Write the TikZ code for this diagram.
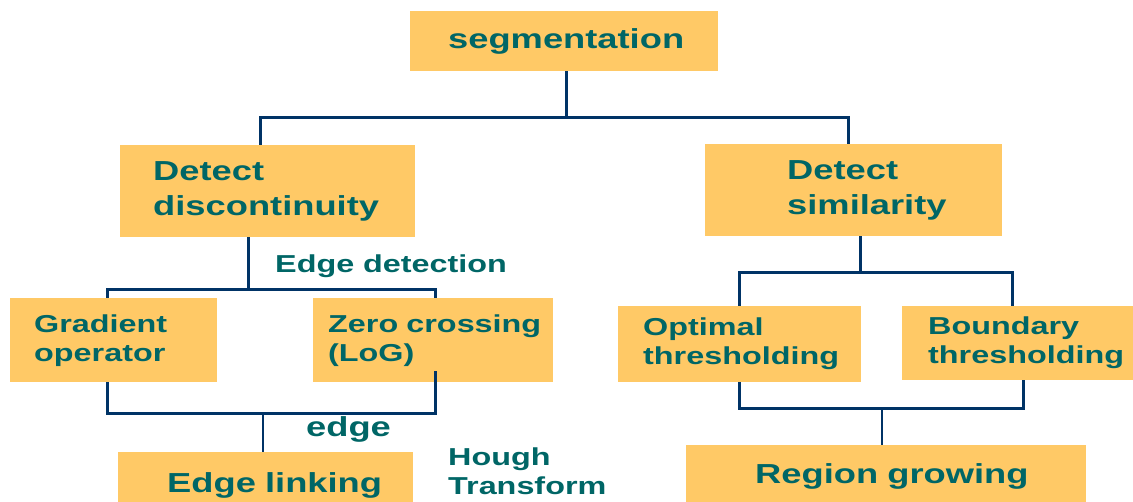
\documentclass[tikz,border=0pt]{standalone}
\usepackage{fontspec}
\newfontfamily\chartfont[FakeStretch=1.32]{Liberation Sans Bold}
\newcommand\bigtxt{\chartfont\fontsize{27.5pt}{35pt}\selectfont}
\newcommand\smalltxt{\chartfont\fontsize{24.5pt}{29pt}\selectfont}
\definecolor{boxfill}{RGB}{255,201,102}
\definecolor{inkteal}{RGB}{0,102,102}
\definecolor{linenavy}{RGB}{0,51,102}
\tikzset{
  % box: width, left indent of the text
  blk/.style 2 args={fill=boxfill, text=inkteal, anchor=north west,
    inner xsep=0pt, inner ysep=0pt, minimum width=#1, text width=#1,
    align=left, execute at begin node={\leftskip=#2}},
  lbl/.style={text=inkteal, inner sep=0pt, anchor=base west},
  trunk/.style={draw=linenavy, line width=3pt},
  twig/.style={draw=linenavy, line width=1.8pt}
}
\begin{document}
\begin{tikzpicture}[x=1pt,y=-1pt]
    \clip (0,0) rectangle (1133,502);
    \node[blk={308pt}{38pt}, minimum height=60pt, font=\bigtxt] (seg) at (410,11) {segmentation};
    \node[blk={295pt}{33pt}, minimum height=92pt, font=\bigtxt] (disc) at (120,145) {Detect\\discontinuity};
    \node[blk={297pt}{82pt}, minimum height=92pt, font=\bigtxt] (simi) at (705,144) {Detect\\similarity};
    \node[blk={207pt}{24pt}, minimum height=84pt, font=\smalltxt] (grad) at (10,298) {Gradient\\operator};
    \node[blk={240pt}{15pt}, minimum height=84pt, font=\smalltxt] (zero) at (313,298) {Zero crossing\\(LoG)};
    \node[blk={243pt}{25pt}, minimum height=76pt, font=\smalltxt] (opt) at (618,306) {Optimal\\thresholding};
    \node[blk={240pt}{26pt}, minimum height=74pt, font=\smalltxt] (bnd) at (902,306) {Boundary\\thresholding};
    \node[blk={295pt}{49pt}, minimum height=66pt, font=\bigtxt] (elink) at (118,452) {Edge linking};
    \node[blk={400pt}{69pt}, minimum height=62pt, font=\bigtxt] (rgrow) at (686,445) {Region growing};

    \node[lbl, font=\smalltxt] (edgedet) at (275,273) {Edge detection};
    \node[lbl, font=\bigtxt] (edgeout) at (306,437) {edge};
    \node[lbl, font=\smalltxt, align=left] (hough) at (448,494) {Hough\\Transform};

    % top split
    \draw[trunk] ([xshift=2pt]seg.south) -- ++(0,46) coordinate (segbar);
    \draw[trunk] ([xshift=-7.5pt]disc.north) |- (segbar) -| ([xshift=-5.5pt]simi.north);
    % discontinuity branch
    \draw[trunk] ([xshift=-19.5pt]disc.south) -- ++(0,52) coordinate (edgebar);
    \draw[trunk] ([xshift=-6.5pt]grad.north) |- (edgebar) -| ([xshift=2pt]zero.north);
    \draw[trunk] ([xshift=-6.5pt]grad.south) -- ++(0,31) -| ([xshift=2pt,yshift=11pt]zero.south);
    \draw[twig] ([xshift=-2.5pt]elink.north) -- ++(0,-39);
    % similarity branch
    \draw[trunk] ([xshift=6.5pt]simi.south) -- ++(0,36) coordinate (simbar);
    \draw[trunk] (opt.north) |- (simbar) -| ([xshift=-10pt]bnd.north);
    \draw[trunk] (opt.south) -- ++(0,26) -| ([xshift=1pt]bnd.south);
    \draw[twig] ([xshift=-4pt]rgrow.north) -- ++(0,-37);
\end{tikzpicture}
\end{document}
